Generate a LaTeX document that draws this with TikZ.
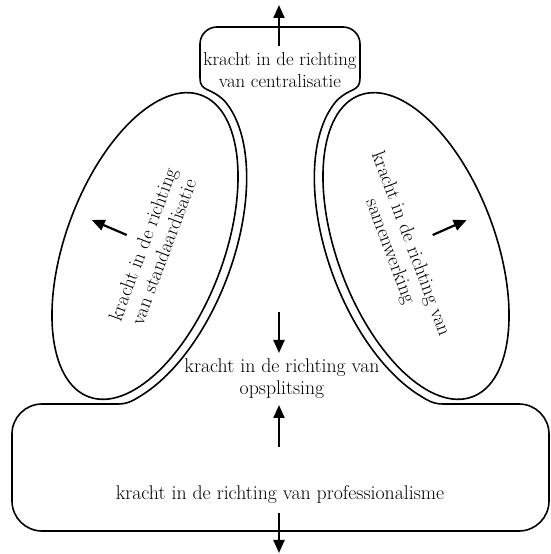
\documentclass[tikz,border=0pt]{standalone}
\usepackage{tikz}
\usetikzlibrary{shapes.geometric,arrows.meta}

\begin{document}
\begin{tikzpicture}[
    x=1pt, y=1pt,
    every node/.style={align=center, font=\fontsize{19.8}{22}\selectfont},
    small/.style={font=\fontsize{18.8}{22}\selectfont},
    force/.style={ellipse, draw, line width=1.6pt, minimum width=322pt, minimum height=158pt, inner sep=0pt},
    outline/.style={line width=1.6pt, line join=round},
    push/.style={line width=2.2pt, -{Triangle[length=13pt, width=11pt]}}
]
\useasboundingbox (0,0) rectangle (551,554);

% Ellipses
\node[force, rotate=69.5] (std) at (145,308) {};
\node[force, rotate=-69.5] (sam) at (416,308) {};

% Outer contour
\draw[outline]
  (118,150) -- (42,150) arc[start angle=90, end angle=180, radius=30]
  -- (12,53) arc[start angle=180, end angle=270, radius=30]
  -- (519,23) arc[start angle=270, end angle=360, radius=30]
  -- (549,120) arc[start angle=0, end angle=90, radius=30]
  -- (443,150) .. controls (433,150) and (427.5,153.5) .. (417.5,160)
  -- plot[smooth, domain=-55:75, samples=40] ({416-82.43*cos(\x)-59.53*sin(\x)}, {308-30.82*cos(\x)+159.24*sin(\x)})
  .. controls (351,467) and (360,462) .. (360,476)
  -- (360,510) arc[start angle=0, end angle=90, radius=17]
  -- (217,527) arc[start angle=90, end angle=180, radius=17]
  -- (200,476) .. controls (200,462) and (210,467) .. (223.8,453.8)
  -- plot[smooth, domain=75:-55, samples=40] ({145+82.43*cos(\x)+59.53*sin(\x)}, {308-30.82*cos(\x)+159.24*sin(\x)})
  .. controls (133.4,153.5) and (128,150) .. cycle;

% Labels
\node[small] (cen) at (280,484) {kracht in de richting\\van centralisatie};
\node[rotate=69.5] (stdtext) at (153,306) {kracht in de richting\\van standaardisatie};
\node[rotate=-69.5] (samtext) at (400,306) {kracht in de richting van\\samenwerking};
\node (ops) at (282,175) {kracht in de richting van\\opsplitsing};
\node[anchor=base] (pro) at (280,54) {kracht in de richting van professionalisme};

% Arrow ends
\coordinate (cen0) at (279,508);
\coordinate (cen1) at (279,549);
\coordinate (std0) at (126.7,319);
\coordinate (std1) at (91.7,334);
\coordinate (sam0) at (432.7,319);
\coordinate (sam1) at (466.7,334);
\coordinate (opsd0) at (279,242);
\coordinate (opsd1) at (279,201);
\coordinate (opsu0) at (279,107);
\coordinate (opsu1) at (279,149);
\coordinate (pro0) at (279,41);
\coordinate (pro1) at (279,1);

% Arrows
\draw[push] (cen0) -- (cen1);
\draw[push] (std0) -- (std1);
\draw[push] (sam0) -- (sam1);
\draw[push] (opsd0) -- (opsd1);
\draw[push] (opsu0) -- (opsu1);
\draw[push] (pro0) -- (pro1);

\end{tikzpicture}
\end{document}
